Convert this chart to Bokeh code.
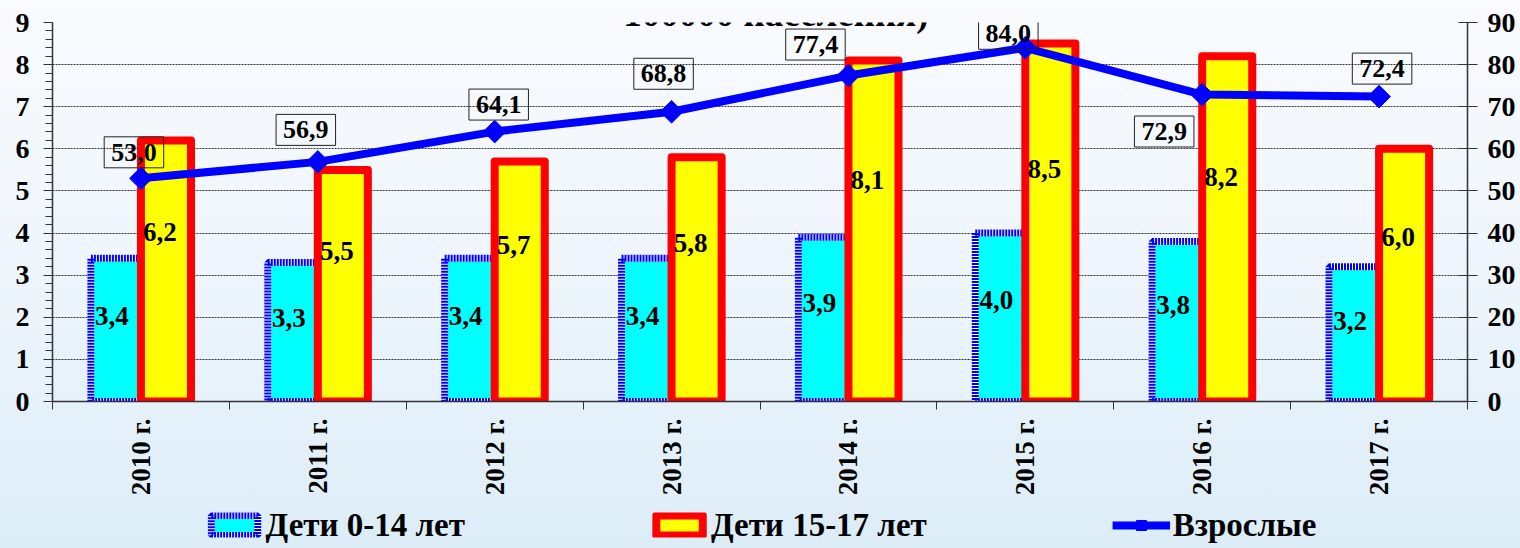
import numpy as np
from bokeh.plotting import figure
from bokeh.layouts import column
from bokeh.models import (Range1d, LinearAxis, FixedTicker, Legend, LegendItem,
                          Label, ColumnDataSource)
from bokeh.core.properties import value
from bokeh.embed import file_html
from bokeh.resources import INLINE

# ---------------- data ----------------
years = ["2010 г.", "2011 г.", "2012 г.", "2013 г.", "2014 г.", "2015 г.", "2016 г.", "2017 г."]
kids_0_14 = [3.4, 3.3, 3.4, 3.4, 3.9, 4.0, 3.8, 3.2]
kids_15_17 = [6.2, 5.5, 5.7, 5.8, 8.1, 8.5, 8.2, 6.0]
adults = [53.0, 56.9, 64.1, 68.8, 77.4, 84.0, 72.9, 72.4]
left_ticks = list(range(0, 10))
right_ticks = list(range(0, 100, 10))
series_names = ["Дети 0-14 лет", "Дети 15-17 лет", "Взрослые"]
title_text = "100000 населения)"

# ---------------- style ----------------
FONT = "Liberation Serif"
BW = 0.283
CYAN, BLUE, YELLOW, RED = "#00FFFF", "#0000FF", "#FFFF00", "#FF0000"
# label offsets (screen px) for the adult series boxes
adult_label_dx = [-7, -12, 4, -8, -33, -17, -38, 3]
adult_label_dy = [26, 32, 27, 38, 31, 14, -37, 28]


def fmt(v):
    return f"{v:.1f}".replace(".", ",")


n = len(years)
xc = np.arange(n) + 0.5
src = ColumnDataSource(dict(
    xc=xc, xl=xc - BW / 2, xr=xc + BW / 2,
    k1=kids_0_14, k2=kids_15_17, ad=adults,
    k1y=[v * 0.6 for v in kids_0_14], k2y=[v * 0.65 for v in kids_15_17],
    k1t=[fmt(v) for v in kids_0_14], k2t=[fmt(v) for v in kids_15_17],
))

p = figure(frame_width=1415, frame_height=379, x_range=Range1d(0, n), y_range=Range1d(0, 9),
           output_backend="svg", toolbar_location=None, x_axis_location=None,
           min_border_left=52, min_border_top=22, min_border_right=0, min_border_bottom=100)
p.extra_y_ranges = {"right": Range1d(0, 90)}

p.background_fill_color = None
p.border_fill_color = None
p.outline_line_color = None

# grid
p.xgrid.visible = False
p.ygrid.grid_line_color = "#333333"
p.ygrid.grid_line_dash = "2 1"
p.ygrid.grid_line_width = 1

# left axis
yax = p.yaxis[0]
yax.ticker = FixedTicker(ticks=left_ticks, minor_ticks=[i / 5 for i in range(46)])
yax.major_tick_in = 0
yax.major_tick_out = 9
yax.minor_tick_in = 0
yax.minor_tick_out = 7
yax.axis_line_color = "#333333"
yax.axis_line_width = 1.5
yax.major_tick_line_color = "#333333"
yax.minor_tick_line_color = "#333333"
yax.major_label_text_font = FONT
yax.major_label_text_font_style = "bold"
yax.major_label_text_font_size = "28px"
yax.major_label_text_color = "black"
yax.major_label_standoff = 14

# right axis
rax = LinearAxis(y_range_name="right", ticker=FixedTicker(ticks=right_ticks, minor_ticks=[]),
                 major_tick_in=9, major_tick_out=10,
                 axis_line_color="#333333", axis_line_width=1.5,
                 major_tick_line_color="#333333",
                 major_label_text_font=FONT, major_label_text_font_style="bold",
                 major_label_text_font_size="28px", major_label_text_color="black",
                 major_label_standoff=10)
p.add_layout(rax, "right")

# bottom axis: category labels centred, ticks (minor) at category boundaries
ax_labels = LinearAxis(ticker=FixedTicker(ticks=list(xc), minor_ticks=list(range(n + 1))),
                       major_label_overrides={float(x): y for x, y in zip(xc, years)},
                       axis_line_color="#333333", axis_line_width=1.5,
                       major_tick_line_color=None, major_tick_in=0, major_tick_out=8,
                       minor_tick_line_color="#333333", minor_tick_in=0, minor_tick_out=8,
                       major_label_orientation=np.pi / 2,
                       major_label_text_font=FONT, major_label_text_font_style="bold",
                       major_label_text_font_size="27px", major_label_text_color="black",
                       major_label_standoff=9)
p.add_layout(ax_labels, "below")

# bars
p.vbar(x="xl", top="k1", width=BW, source=src, fill_color=CYAN,
       line_color="white", line_width=7)
p.vbar(x="xl", top="k1", width=BW, source=src, fill_color=None,
       line_color=BLUE, line_width=7, line_dash="2 1")
p.vbar(x="xr", top="k2", width=BW, source=src, fill_color=YELLOW,
       line_color=RED, line_width=8, line_join="round")

# bar labels
p.text(x="xl", y="k1y", text="k1t", source=src, x_offset=-4,
       text_font=value(FONT), text_font_style="bold", text_font_size="27px",
       text_align="center", text_baseline="middle", text_color="black")
p.text(x="xr", y="k2y", text="k2t", source=src, x_offset=-6,
       text_font=value(FONT), text_font_style="bold", text_font_size="27px",
       text_align="center", text_baseline="middle", text_color="black")

# adults line
p.line(x="xc", y="ad", source=src, y_range_name="right", line_color=BLUE,
       line_width=8, line_join="round")
p.scatter(x="xc", y="ad", source=src, y_range_name="right", marker="square",
          angle=np.pi / 4, size=16, fill_color=BLUE, line_color=BLUE)

for i in range(n):
    p.add_layout(Label(x=xc[i], y=adults[i], y_range_name="right", text=fmt(adults[i]),
                       x_offset=adult_label_dx[i], y_offset=adult_label_dy[i],
                       text_align="center", text_baseline="middle",
                       text_font=FONT, text_font_style="bold", text_font_size="26px",
                       text_color="black", border_line_color="#222222", border_line_width=1,
                       background_fill_color=None, padding=7))

# title fragment
p.add_layout(Label(x=4.09, y=9.22, text=title_text, text_align="center",
                   text_baseline="alphabetic", text_font=FONT, text_font_style="bold",
                   text_font_size="37px", text_color="black"))

# ---------------- legend strip ----------------
lg = figure(width=1520, height=47, x_range=Range1d(0, 1), y_range=Range1d(0, 1),
            output_backend="svg", toolbar_location=None,
            x_axis_location=None, y_axis_location=None,
            min_border_left=0, min_border_right=0, min_border_top=0, min_border_bottom=0)
lg.background_fill_color = None
lg.border_fill_color = None
lg.outline_line_color = None
lg.grid.visible = False

# swatch glyphs are hidden; only their legend icons are drawn
hx, hy = [0.5], [0.5]
la = lg.vbar(x=hx, top=hy, width=0.1, fill_color=CYAN, line_color="white",
             line_width=7, visible=False)
lb = lg.vbar(x=hx, top=hy, width=0.1, fill_color=None, line_color=BLUE,
             line_width=7, line_dash="2 1", visible=False)
lyb = lg.vbar(x=hx, top=hy, width=0.1, fill_color=YELLOW, line_color=RED,
              line_width=8, line_join="round", visible=False)
lln = lg.line(x=[0.4, 0.6], y=[0.5, 0.5], line_color=BLUE, line_width=8, visible=False)
lmk = lg.scatter(x=hx, y=hy, marker="square", angle=np.pi / 4, size=16,
                 fill_color=BLUE, line_color=BLUE, visible=False)

legend = Legend(items=[LegendItem(label=series_names[0], renderers=[la, lb]),
                       LegendItem(label=series_names[1], renderers=[lyb]),
                       LegendItem(label=series_names[2], renderers=[lln, lmk])],
                orientation="horizontal", location="center", spacing=185,
                glyph_width=58, glyph_height=25, label_standoff=3,
                label_text_font=FONT, label_text_font_style="bold",
                label_text_font_size="33px", label_text_color="black",
                background_fill_alpha=0, border_line_color=None,
                inactive_fill_alpha=0,
                padding=2, margin=0)
lg.add_layout(legend)

layout = column(p, lg, spacing=0)
layout.styles = {"background-image": "linear-gradient(to bottom, #f9fbfe 0%, #eef5fc 50%, #dcedf8 100%)"}

open("out.html", "w").write(file_html(layout, INLINE))
